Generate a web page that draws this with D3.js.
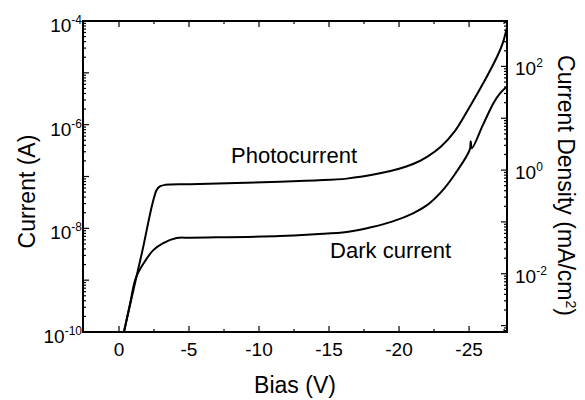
<!DOCTYPE html>
<html>
<head>
<meta charset="utf-8">
<script src="https://cdn.jsdelivr.net/npm/d3@7"></script>
<style>
  body { margin: 0; background: #fff; }
  svg { font-family: "Liberation Sans", Arial, sans-serif; }
</style>
</head>
<body>
<div id="chart"></div>
<script>
'use strict';

// bias (V) and current (A)
var photoBias = [-0.35, -1.62, -2.69, -2.95, -3.3, -5.07, -11.5, -14.0, -16.26, -18.64, -20.0, -21.0,
                 -22.0, -23.0, -24.0, -25.0, -26.0, -27.0, -27.4, -27.69];
var photoCurrent = [1.0e-10, 3.2e-9, 5.5e-8, 6.5e-8, 6.9e-8, 7.1e-8, 7.9e-8, 8.4e-8, 9.1e-8, 1.15e-7, 1.41e-7, 1.74e-7,
                    2.4e-7, 3.8e-7, 7.6e-7, 2.1e-6, 6.2e-6, 2.04e-5, 3.7e-5, 7.2e-5];

var darkBias = [-0.36, -0.79, -1.2, -1.8, -2.45, -3.16, -4.12, -5.07, -11.5, -14.0, -16.26, -18.0, -19.5,
                -21.0, -22.0, -23.0, -24.0, -25.05, -25.12, -25.2, -26.0, -26.74, -27.21, -27.69];
var darkCurrent = [1.0e-10, 3.5e-10, 1.1e-9, 2.2e-9, 3.8e-9, 5.2e-9, 6.5e-9, 6.6e-9, 7.1e-9, 7.7e-9, 8.5e-9, 1.05e-8, 1.35e-8,
                   1.95e-8, 2.8e-8, 5.0e-8, 1.12e-7, 3.3e-7, 4.8e-7, 3.5e-7, 1.0e-6, 2.6e-6, 4.0e-6, 5.4e-6];

var biasTicks = [0, -5, -10, -15, -20, -25];
var biasMinorTicks = [-2.5, -7.5, -12.5, -17.5, -22.5, -27.5];
var currentLabelExp = [-4, -6, -8, -10];
var densityLabelExp = [2, 0, -2];

var deviceArea = 1.33e-4;   // cm^2, J (mA/cm^2) = I * 1000 / area

var W = 585, H = 400
  , margin = { top: 21, right: 78, bottom: 68, left: 83 }
  , iw = W - margin.left - margin.right
  , ih = H - margin.top - margin.bottom;

var svg = d3.select('#chart').append('svg')
    .attr('width', W)
    .attr('height', H);

var g = svg.append('g')
    .attr('transform', 'translate(' + margin.left + ',' + margin.top + ')');

var x = d3.scaleLinear().domain([2.57, -27.71]).range([0, iw]);
var y = d3.scaleLog().domain([1e-10, 1e-4]).range([ih, 0]);
var y2 = d3.scaleLog()
    .domain([1e-10 * 1000 / deviceArea, 1e-4 * 1000 / deviceArea])
    .range([ih, 0]);

g.append('clipPath').attr('id', 'clip')
  .append('rect').attr('width', iw).attr('height', ih);

// log tick values (decades + 2..9 minors) inside a domain
function logTicks(scale) {
  var d = scale.domain(), out = [];
  for (var e = Math.floor(Math.log10(d[0])); e <= Math.ceil(Math.log10(d[1])); e++) {
    for (var m = 1; m < 10; m++) {
      var v = m * Math.pow(10, e);
      if (v >= d[0] * 0.999 && v <= d[1] * 1.001) out.push({ v: v, major: m === 1 });
    }
  }
  return out;
}

var tickStroke = 1.2;

// left ticks
g.selectAll('line.yl').data(logTicks(y)).enter().append('line')
    .attr('x1', 0).attr('x2', function (d) { return d.major ? 6 : 3; })
    .attr('y1', function (d) { return y(d.v); }).attr('y2', function (d) { return y(d.v); })
    .attr('stroke', '#000').attr('stroke-width', tickStroke);

// right ticks
g.selectAll('line.yr').data(logTicks(y2)).enter().append('line')
    .attr('x1', iw).attr('x2', function (d) { return iw - (d.major ? 6 : 3); })
    .attr('y1', function (d) { return y2(d.v); }).attr('y2', function (d) { return y2(d.v); })
    .attr('stroke', '#000').attr('stroke-width', tickStroke);

// bottom and top ticks
var xt = biasTicks.map(function (v) { return { v: v, major: true }; })
  .concat(biasMinorTicks.map(function (v) { return { v: v, major: false }; }));
[0, ih].forEach(function (base) {
  g.selectAll(null).data(xt).enter().append('line')
      .attr('x1', function (d) { return x(d.v); }).attr('x2', function (d) { return x(d.v); })
      .attr('y1', base)
      .attr('y2', function (d) { var l = d.major ? 6 : 3; return base === 0 ? l : base - l; })
      .attr('stroke', '#000').attr('stroke-width', tickStroke);
});

// frame
g.append('rect')
    .attr('width', iw).attr('height', ih)
    .attr('fill', 'none').attr('stroke', '#000').attr('stroke-width', 2);

// x labels
g.selectAll('text.xl').data(biasTicks).enter().append('text')
    .attr('x', function (d) { return x(d); })
    .attr('y', ih + 24)
    .attr('text-anchor', 'middle')
    .style('font-size', '19px')
    .text(function (d) { return d === 0 ? '0' : '-' + Math.abs(d); });

// power-of-ten label helper
function powLabel(sel, e) {
  sel.append('tspan').text('10');
  sel.append('tspan').attr('dy', -8).style('font-size', '12px').text(e);
}

g.selectAll('text.yl').data(currentLabelExp).enter().append('text')
    .attr('x', -1)
    .attr('y', function (d) { return y(Math.pow(10, d)) + 11; })
    .attr('text-anchor', 'end')
    .style('font-size', '19px')
    .each(function (d) { powLabel(d3.select(this), d); });

g.selectAll('text.yr').data(densityLabelExp).enter().append('text')
    .attr('x', iw + 8)
    .attr('y', function (d) { return y2(Math.pow(10, d)) + 9; })
    .attr('text-anchor', 'start')
    .style('font-size', '19px')
    .each(function (d) { powLabel(d3.select(this), d); });

// curves
var line = d3.line()
    .x(function (d) { return x(d[0]); })
    .y(function (d) { return y(d[1]); })
    .curve(d3.curveCatmullRom.alpha(0.5));

[[photoBias, photoCurrent], [darkBias, darkCurrent]].forEach(function (s) {
  g.append('path')
      .datum(d3.zip(s[0], s[1]))
      .attr('clip-path', 'url(#clip)')
      .attr('fill', 'none')
      .attr('stroke', '#000')
      .attr('stroke-width', 2)
      .attr('d', line);
});

// annotations
g.append('text').attr('x', x(-12.5)).attr('y', y(1.8e-7))
    .attr('text-anchor', 'middle').style('font-size', '22px').text('Photocurrent');
g.append('text').attr('x', x(-19.4)).attr('y', y(2.7e-9))
    .attr('text-anchor', 'middle').style('font-size', '22px').text('Dark current');

// axis titles
g.append('text')
    .attr('x', iw / 2).attr('y', ih + 61)
    .attr('text-anchor', 'middle').style('font-size', '23px')
    .text('Bias (V)');

g.append('text')
    .attr('transform', 'translate(' + (-48) + ',' + (ih / 2 + 15) + ') rotate(-90)')
    .attr('text-anchor', 'middle').style('font-size', '23px')
    .text('Current (A)');

var rt = g.append('text')
    .attr('transform', 'translate(' + (iw + 51) + ',' + (ih / 2 + 9) + ') rotate(90)')
    .attr('text-anchor', 'middle').style('font-size', '23px');
rt.append('tspan').text('Current Density (mA/cm');
rt.append('tspan').attr('dy', -8).style('font-size', '14px').text('2');
rt.append('tspan').attr('dy', 8).text(')');
</script>
</body>
</html>
